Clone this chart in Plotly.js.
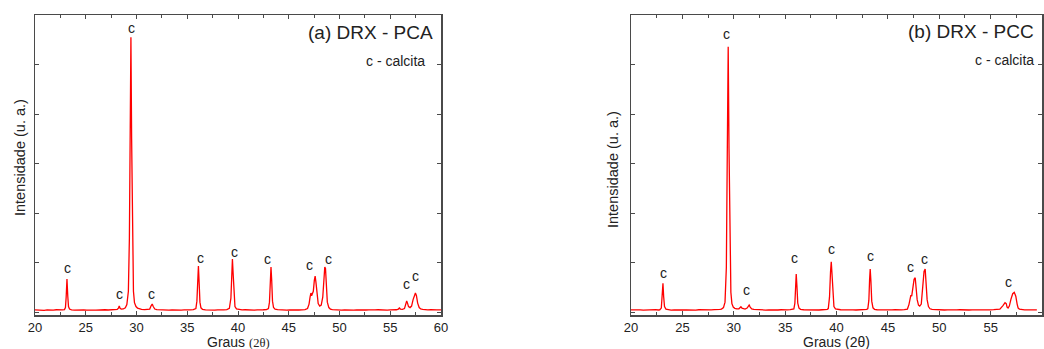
<!DOCTYPE html>
<html>
<head>
<meta charset="utf-8">
<script src="https://cdn.plot.ly/plotly-3.0.1.min.js"></script>
<style>html,body{margin:0;padding:0;background:#fff;}#chart{width:1044px;height:349px;}</style>
</head>
<body>
<div id="chart"></div>
<script>
// ---- (a) PCA diffractogram ----
var pcaX = [20.0,20.3,20.6,20.9,21.2,21.5,21.8,22.1,22.4,22.7,22.9,23.0,23.07,23.15,23.23,23.3,23.4,23.6,23.9,24.2,24.5,24.8,25.1,25.4,25.7,26.0,26.3,26.6,26.9,27.2,27.5,27.8,28.1,28.22,28.3,28.38,28.5,28.7,28.9,29.05,29.2,29.3,29.38,29.45,29.52,29.6,29.7,29.8,29.95,30.1,30.3,30.5,30.8,31.1,31.3,31.45,31.55,31.65,31.8,32.0,32.3,32.6,32.9,33.2,33.5,33.8,34.1,34.4,34.7,35.0,35.3,35.6,35.85,35.95,36.03,36.1,36.17,36.25,36.35,36.5,36.8,37.1,37.4,37.7,38.0,38.3,38.6,38.9,39.15,39.3,39.38,39.45,39.52,39.6,39.7,39.85,40.1,40.4,40.7,41.0,41.3,41.6,41.9,42.2,42.5,42.8,43.0,43.1,43.18,43.25,43.32,43.4,43.5,43.65,43.9,44.2,44.5,44.8,45.1,45.4,45.7,46.0,46.3,46.6,46.85,47.0,47.1,47.18,47.25,47.32,47.42,47.52,47.6,47.68,47.78,47.9,48.05,48.2,48.35,48.45,48.55,48.62,48.7,48.8,48.95,49.1,49.3,49.6,49.9,50.2,50.5,50.8,51.1,51.4,51.7,52.0,52.3,52.6,52.9,53.2,53.5,53.8,54.1,54.4,54.7,55.0,55.3,55.6,55.8,55.9,56.0,56.2,56.4,56.52,56.62,56.7,56.8,56.95,57.1,57.25,57.38,57.48,57.58,57.7,57.85,58.0,58.2,58.4,58.7,59.0,59.3,59.6,60.0];
var pcaY = [45,38,42,35,44,37,40,46,38,42,48,90,300,667,320,110,60,45,40,44,36,42,38,45,40,37,43,39,46,41,44,48,52,80,121,75,58,62,85,150,420,1500,3600,5549,3500,1350,420,190,110,80,62,55,50,52,60,130,162,110,60,48,44,40,46,39,43,38,45,40,42,38,44,48,70,220,650,929,600,200,85,55,45,40,46,38,44,40,45,48,75,280,800,1071,780,300,110,65,50,44,46,40,45,38,43,40,46,50,70,200,620,909,640,220,90,58,48,42,45,40,44,38,43,41,45,48,70,160,300,384,330,370,420,640,727,600,330,170,120,140,300,700,909,880,500,200,90,60,50,44,46,40,44,38,45,40,43,38,45,41,44,38,42,46,40,44,39,45,41,46,60,81,60,55,70,150,222,180,110,90,120,250,360,384,330,180,90,62,55,48,44,46,40,44,42];

// ---- (b) PCC diffractogram ----
var pccX = [20.0,20.3,20.6,20.9,21.2,21.5,21.8,22.1,22.4,22.65,22.8,22.95,23.04,23.11,23.18,23.26,23.4,23.6,23.9,24.2,24.5,24.8,25.1,25.4,25.7,26.0,26.3,26.6,26.9,27.2,27.5,27.8,28.1,28.4,28.65,28.8,29.0,29.15,29.28,29.37,29.46,29.54,29.62,29.72,29.82,29.95,30.1,30.3,30.5,30.62,30.7,30.8,30.95,31.1,31.3,31.42,31.5,31.6,31.75,31.95,32.2,32.5,32.8,33.1,33.4,33.7,34.0,34.3,34.6,34.9,35.2,35.5,35.7,35.85,35.95,36.02,36.08,36.15,36.23,36.35,36.5,36.8,37.1,37.4,37.7,38.0,38.3,38.6,38.9,39.1,39.2,39.32,39.42,39.49,39.56,39.65,39.75,39.9,40.1,40.4,40.7,41.0,41.3,41.6,41.9,42.2,42.5,42.8,42.95,43.05,43.15,43.22,43.28,43.35,43.43,43.55,43.7,43.95,44.2,44.5,44.8,45.1,45.4,45.7,46.0,46.3,46.6,46.9,47.05,47.15,47.24,47.32,47.42,47.55,47.66,47.75,47.85,47.98,48.1,48.25,48.4,48.52,48.63,48.72,48.82,48.95,49.1,49.3,49.6,49.9,50.2,50.5,50.8,51.1,51.4,51.7,52.0,52.3,52.6,52.9,53.2,53.5,53.8,54.1,54.4,54.7,55.0,55.3,55.6,55.9,56.2,56.4,56.52,56.6,56.7,56.82,56.98,57.15,57.3,57.45,57.58,57.68,57.8,57.95,58.1,58.3,58.6,58.9,59.2,59.5,59.8,60.0];
var pccY = [42,46,38,44,40,45,39,43,47,41,45,80,300,580,310,110,58,46,40,44,39,45,41,43,38,44,40,46,42,45,48,44,50,47,52,60,90,200,900,3200,5359,3300,1200,400,170,100,75,62,65,95,107,80,62,60,80,130,141,100,65,52,46,42,45,40,44,39,45,41,46,40,44,47,50,62,180,550,768,520,180,80,55,46,42,45,39,44,41,46,48,55,70,300,820,1016,780,300,110,65,52,46,43,47,40,44,41,46,42,48,55,70,240,650,869,620,220,85,55,46,43,45,40,44,42,46,41,45,50,60,150,300,343,320,450,660,693,500,250,140,120,160,450,820,869,600,250,110,65,52,46,44,48,41,45,40,44,42,46,40,45,41,44,39,46,42,45,40,44,47,52,60,130,188,170,100,80,120,260,370,398,320,160,80,60,55,46,43,45,41,44,42];

// ---- peak labels ("c" = calcita) ----
var labelText = 'c';
var pcaLabelX = [23.22,28.34,29.5,31.47,36.3,39.67,42.86,47.0,48.9,56.62,57.48];
var pcaLabelY = [889,364,5737,364,1097,1212,1071,949,1071,566,727];
var pccLabelX = [23.17,29.34,31.22,35.95,39.51,43.31,47.17,48.56,56.77];
var pccLabelY = [794,5610,444,1097,1279,1131,915,1065,612];

// ---- texts ----
var titleA = '(a) DRX - PCA';
var titleB = '(b) DRX - PCC';
var legendText = 'c - calcita';
var yTitle = 'Intensidade (u. a.)';
var xTitleA = 'Graus <span style="font-family:\'Liberation Serif\',serif;font-size:12.5px">(2θ)</span>';
var xTitleB = 'Graus (2θ)';
var xTickVals = [20,25,30,35,40,45,50,55,60];

var W = 1044, H = 349;
function px(x){return x/W;}
function py(y){return 1 - y/H;}

var FONT = 'Liberation Sans, Arial, sans-serif';
var axisCol = '#4a4a4a';

var traces = [
  {x: pcaX, y: pcaY, xaxis: 'x', yaxis: 'y', type: 'scatter', mode: 'lines',
   line: {color: '#ff0000', width: 1.3}, hoverinfo: 'skip'},
  {x: pccX, y: pccY, xaxis: 'x2', yaxis: 'y2', type: 'scatter', mode: 'lines',
   line: {color: '#ff0000', width: 1.3}, hoverinfo: 'skip'}
];

function xAx(dom, anchor){
  return {domain: dom, anchor: anchor, range: [20, 60], tickvals: xTickVals,
    ticks: 'inside', ticklen: 4, tickwidth: 1, tickcolor: axisCol,
    minor: {dtick: 2.5, tick0: 20, ticks: 'inside', ticklen: 3, tickcolor: axisCol, showgrid: false},
    showline: true, linecolor: axisCol, linewidth: 1.5, mirror: 'allticks',
    showgrid: false, zeroline: false,
    tickfont: {family: FONT, size: 13, color: '#222'}, ticklabelstandoff: 0};
}
function yAx(anchor){
  return {domain: [1 - 315/H, 1 - 15/H], anchor: anchor, range: [-60, 6000],
    tick0: 0, dtick: 1000, ticks: 'inside', ticklen: 4, tickwidth: 1, tickcolor: axisCol,
    showticklabels: false, showline: true, linecolor: axisCol, linewidth: 1.5,
    mirror: 'allticks', showgrid: false, zeroline: false};
}

var ann = [];
for (var i = 0; i < pcaLabelX.length; i++) {
  ann.push({x: pcaLabelX[i], y: pcaLabelY[i], xref: 'x', yref: 'y', text: labelText,
    showarrow: false, font: {family: FONT, size: 14, color: '#222'}});
}
for (var j = 0; j < pccLabelX.length; j++) {
  ann.push({x: pccLabelX[j], y: pccLabelY[j], xref: 'x2', yref: 'y2', text: labelText,
    showarrow: false, font: {family: FONT, size: 14, color: '#222'}});
}
function pap(text, x, y, size, xanchor, angle){
  return {text: text, x: px(x), y: py(y), xref: 'paper', yref: 'paper', showarrow: false,
    xanchor: xanchor, yanchor: 'middle', textangle: angle || 0,
    font: {family: FONT, size: size, color: '#222'}};
}
ann.push(pap(titleA, 435, 32, 19, 'right'));
ann.push(pap(legendText, 427, 61, 14, 'right'));
ann.push(pap(titleB, 1036, 31, 19, 'right'));
ann.push(pap(legendText, 1036, 60, 14, 'right'));
ann.push(pap(yTitle, 20, 158, 14.5, 'center', -90));
ann.push(pap(yTitle, 613, 170, 14.5, 'center', -90));
ann.push(pap(xTitleA, 238, 342, 14, 'center'));
ann.push(pap(xTitleB, 836, 342, 14, 'center'));

var layout = {
  width: W, height: H, autosize: false,
  margin: {l: 0, r: 0, t: 0, b: 0, pad: 0},
  paper_bgcolor: '#fff', plot_bgcolor: '#fff',
  showlegend: false,
  xaxis: xAx([35/W, 441/W], 'y'),
  yaxis: yAx('x'),
  xaxis2: xAx([631/W, 1042/W], 'y2'),
  yaxis2: yAx('x2'),
  annotations: ann,
  font: {family: FONT}
};

Plotly.newPlot('chart', traces, layout, {displayModeBar: false, staticPlot: true});
</script>
</body>
</html>
